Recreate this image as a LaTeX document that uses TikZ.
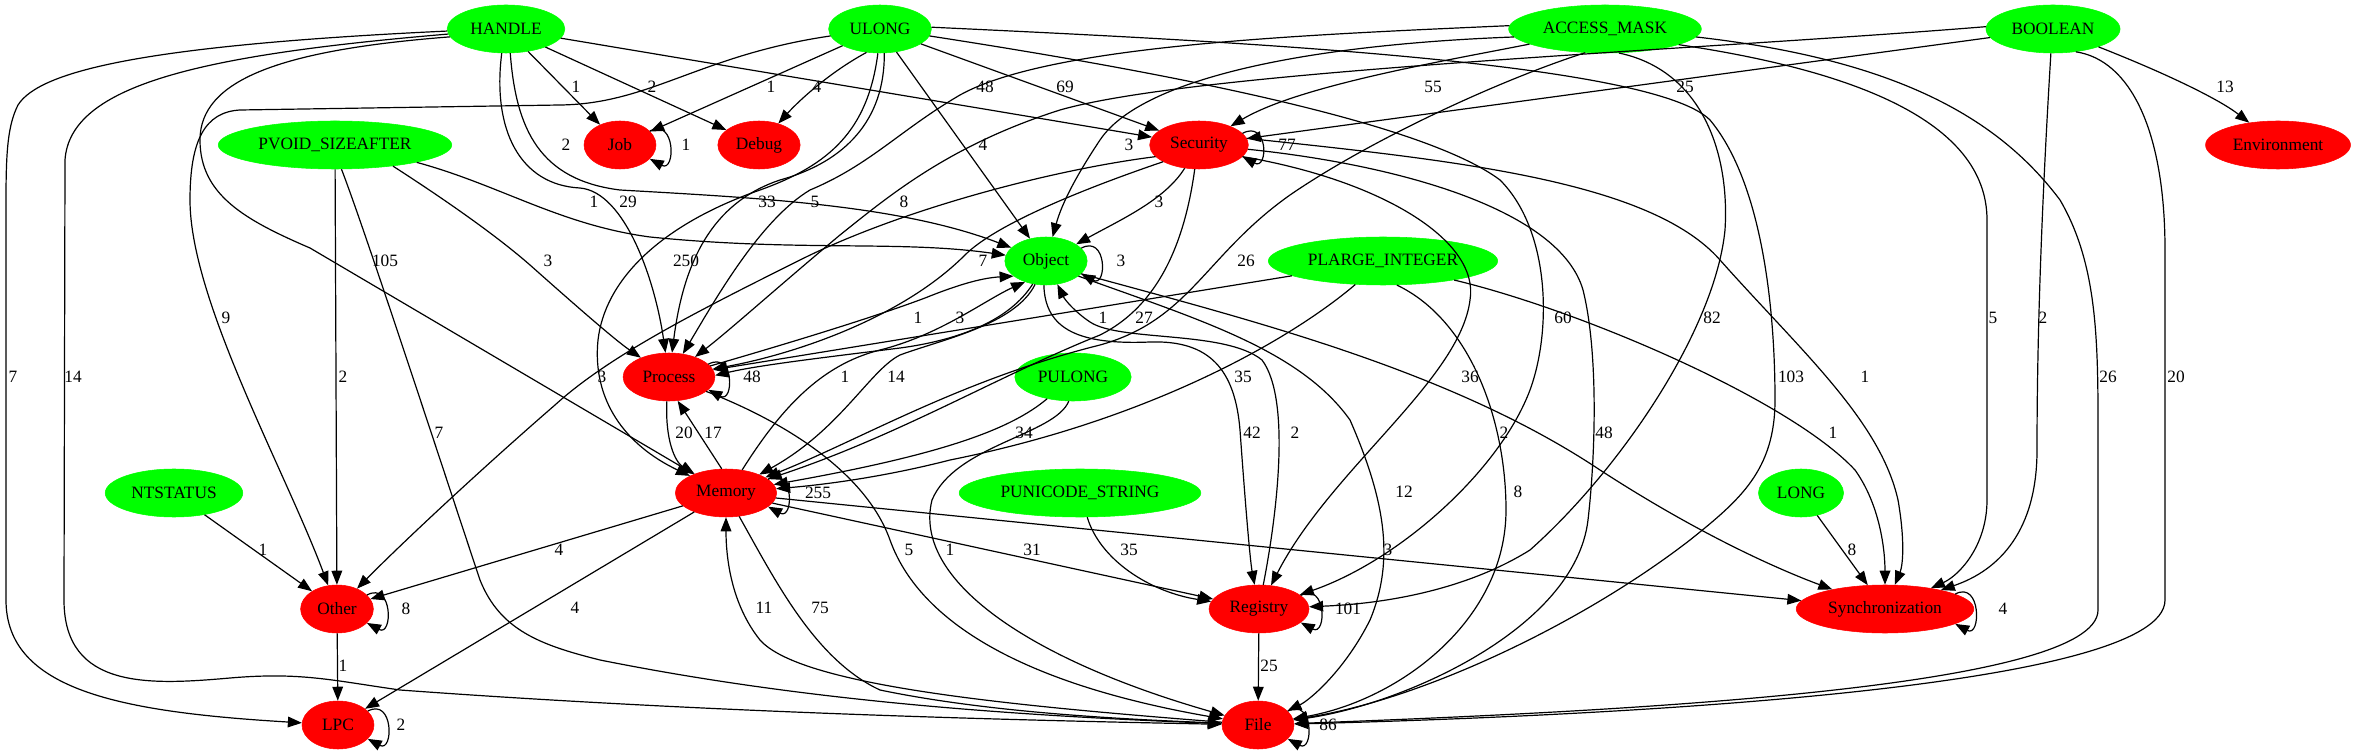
\documentclass[tikz,border=0pt]{standalone}
\usepackage{fontspec}
\setmainfont{Liberation Serif}
\usetikzlibrary{arrows.meta,shapes.geometric}
\definecolor{typeColor}{RGB}{0,255,0}
\definecolor{groupColor}{RGB}{255,0,0}
\newcommand{\diagfont}{\fontsize{13}{15}\selectfont}

\begin{document}
\begin{tikzpicture}[x=0.75pt, y=-0.75pt,
    typ/.style={ellipse, fill=typeColor, draw=typeColor, minimum width=54pt, minimum height=36pt, inner xsep=4.5pt, inner ysep=1pt, font=\diagfont},
    grp/.style={typ, fill=groupColor, draw=groupColor},
    arr/.style={-{Triangle[length=10.5pt, width=8pt]}, line width=0.9pt},
    lbl/.style={font=\diagfont, inner sep=0pt}
  ]
  \useasboundingbox (0,0) rectangle (2360,755);

  % argument types
  \node[typ] (handle) at (506,29) {HANDLE};
  \node[typ] (ulong) at (880,29) {ULONG};
  \node[typ] (accmask) at (1605,29) {ACCESS\_MASK};
  \node[typ] (boolean) at (2053,29) {BOOLEAN};
  \node[typ] (pvoid) at (335,145) {PVOID\_SIZEAFTER};
  \node[typ] (object) at (1046,261) {Object};
  \node[typ] (plarge) at (1383,261) {PLARGE\_INTEGER};
  \node[typ] (pulong) at (1073,377) {PULONG};
  \node[typ] (ntstatus) at (174,493) {NTSTATUS};
  \node[typ] (punicode) at (1080,493) {PUNICODE\_STRING};
  \node[typ] (long) at (1801,493) {LONG};
  % call groups
  \node[grp] (job) at (620,145) {Job};
  \node[grp] (debug) at (759,145) {Debug};
  \node[grp] (security) at (1199,145) {Security};
  \node[grp] (environ) at (2278,145) {Environment};
  \node[grp] (process) at (669,377) {Process};
  \node[grp] (memory) at (726,493) {Memory};
  \node[grp] (other) at (337,609) {Other};
  \node[grp] (registry) at (1259,609) {Registry};
  \node[grp] (sync) at (1885,609) {Synchronization};
  \node[grp] (lpc) at (338,725) {LPC};
  \node[grp] (file) at (1258,725) {File};

  % HANDLE
  \draw[arr] (handle) -- (job);
  \draw[arr] (handle) -- (debug);
  \draw[arr] (handle) -- (security);
  \draw[arr] (handle.-80) .. controls (516,130) and (540,180) .. (620,190) .. controls (760,198) and (900,205) .. (object);
  \draw[arr] (handle.-100) .. controls (492,130) and (520,185) .. (580,188) .. controls (625,192) and (655,280) .. (process);
  \draw[arr] (handle.188) .. controls (280,50) and (200,80) .. (200,140) .. controls (200,195) and (245,220) .. (310,248) -- (memory);
  \draw[arr] (handle.182) .. controls (150,45) and (40,70) .. (18,105) .. controls (8,125) and (6,150) .. (6,200) -- (6,600) .. controls (6,690) and (120,712) .. (lpc);
  \draw[arr] (handle.185) .. controls (200,55) and (70,85) .. (65,160) -- (64,600) .. controls (64,690) and (150,685) .. (230,678) .. controls (300,672) and (330,680) .. (400,690) .. controls (700,712) and (1000,720) .. (file);

  % ULONG
  \draw[arr] (ulong) -- (job);
  \draw[arr] (ulong.-120) .. controls (825,75) and (795,105) .. (debug);
  \draw[arr] (ulong) -- (security);
  \draw[arr] (ulong) -- (object);
  \draw[arr] (ulong.188) .. controls (700,55) and (650,104) .. (560,105) -- (240,110) .. controls (205,112) and (190,140) .. (190,200) .. controls (190,300) and (285,470) .. (other);
  \draw[arr] (ulong.-80) .. controls (885,120) and (845,162) .. (780,180) .. controls (720,200) and (685,250) .. (process);
  \draw[arr] (ulong.-95) .. controls (868,130) and (830,165) .. (760,190) .. controls (660,225) and (605,280) .. (598,340) .. controls (592,400) and (625,445) .. (memory);
  \draw[arr] (ulong.-8) .. controls (1150,70) and (1420,120) .. (1500,180) .. controls (1550,230) and (1552,330) .. (1530,390) .. controls (1500,470) and (1400,560) .. (registry);
  \draw[arr] (ulong.2) .. controls (1200,40) and (1650,60) .. (1710,120) .. controls (1760,180) and (1775,300) .. (1775,400) .. controls (1775,470) and (1740,500) .. (1690,540) .. controls (1580,625) and (1420,700) .. (file);

  % ACCESS_MASK
  \draw[arr] (accmask) .. controls (1450,60) and (1300,85) .. (security);
  \draw[arr] (accmask.185) .. controls (1300,45) and (1140,80) .. (1100,140) .. controls (1070,185) and (1060,210) .. (object);
  \draw[arr] (accmask.178) .. controls (1300,35) and (1050,45) .. (960,95) .. controls (900,130) and (870,165) .. (810,190) .. controls (760,220) and (715,300) .. (process);
  \draw[arr] (accmask.-130) .. controls (1500,80) and (1370,140) .. (1290,195) .. controls (1205,255) and (1190,320) .. (1100,345) .. controls (960,380) and (860,440) .. (memory);
  \draw[arr] (accmask.-60) .. controls (1700,70) and (1730,150) .. (1725,230) .. controls (1715,330) and (1620,470) .. (1530,550) .. controls (1450,600) and (1350,605) .. (registry);
  \draw[arr] (accmask.-12) .. controls (1850,70) and (1987,120) .. (1987,220) -- (1987,500) .. controls (1987,545) and (1960,575) .. (sync);
  \draw[arr] (accmask.-5) .. controls (1900,60) and (2000,120) .. (2060,200) .. controls (2095,260) and (2098,330) .. (2098,420) -- (2098,610) .. controls (2098,690) and (1600,712) .. (file);

  % BOOLEAN
  \draw[arr] (boolean) -- (security);
  \draw[arr] (boolean) .. controls (2170,75) and (2220,100) .. (environ);
  \draw[arr] (boolean.178) .. controls (1700,50) and (1200,70) .. (1060,110) .. controls (950,145) and (890,195) .. (840,235) .. controls (780,285) and (730,330) .. (process);
  \draw[arr] (boolean.-95) .. controls (2045,150) and (2037,300) .. (2037,450) .. controls (2037,530) and (2000,570) .. (sync);
  \draw[arr] (boolean.-45) .. controls (2130,60) and (2165,130) .. (2165,250) -- (2165,600) .. controls (2165,690) and (1600,716) .. (file);

  % PVOID_SIZEAFTER
  \draw[arr] (pvoid) -- (other);
  \draw[arr] (pvoid.-75) .. controls (365,230) and (440,460) .. (480,580) .. controls (500,630) and (540,645) .. (600,660) .. controls (800,700) and (1000,715) .. (file);
  \draw[arr] (pvoid.-20) .. controls (430,190) and (490,230) .. (530,265) .. controls (575,305) and (615,340) .. (process);
  \draw[arr] (pvoid.-12) .. controls (500,185) and (560,225) .. (650,237) .. controls (800,252) and (900,240) .. (object);

  % Security
  \draw[arr] (security) .. controls (1165,200) and (1120,220) .. (object);
  \draw[arr] (security.205) .. controls (1080,190) and (995,225) .. (965,255) .. controls (900,320) and (790,355) .. (process);
  \draw[arr] (security.195) .. controls (1050,170) and (900,210) .. (800,260) .. controls (700,310) and (610,355) .. (555,405) .. controls (480,470) and (400,545) .. (other);
  \draw[arr] (security.-100) .. controls (1185,240) and (1160,305) .. (1100,335) .. controls (1000,375) and (900,435) .. (memory);
  \draw[arr] (security.-15) .. controls (1380,180) and (1480,240) .. (1470,300) .. controls (1460,380) and (1330,470) .. (registry);
  \draw[arr] (security.-5) .. controls (1400,165) and (1560,210) .. (1583,290) .. controls (1598,350) and (1596,450) .. (1588,520) .. controls (1575,630) and (1400,705) .. (file);
  \draw[arr] (security.8) .. controls (1450,160) and (1650,180) .. (1720,260) .. controls (1800,350) and (1880,420) .. (1898,500) .. controls (1905,540) and (1903,565) .. (sync);

  % Object
  \draw[arr] (object.-120) .. controls (1010,320) and (960,340) .. (900,348) .. controls (820,358) and (760,365) .. (process.2);
  \draw[arr] (object.-115) .. controls (1015,325) and (940,340) .. (900,355) .. controls (870,370) and (840,430) .. (memory);
  \draw[arr] (object.-95) .. controls (1045,330) and (1080,345) .. (1150,342) .. controls (1210,340) and (1235,370) .. (1240,430) .. controls (1245,500) and (1250,560) .. (registry);
  \draw[arr] (object.-25) .. controls (1200,320) and (1300,350) .. (1350,420) .. controls (1385,500) and (1395,560) .. (1370,620) .. controls (1345,670) and (1310,700) .. (file);
  \draw[arr] (object.-20) .. controls (1250,320) and (1450,370) .. (1600,470) .. controls (1700,535) and (1780,570) .. (sync);

  % PLARGE_INTEGER
  \draw[arr] (plarge) -- (process);
  \draw[arr] (plarge) .. controls (1290,340) and (1150,420) .. (950,460) .. controls (880,478) and (820,485) .. (memory);
  \draw[arr] (plarge.-60) .. controls (1470,320) and (1506,420) .. (1506,510) .. controls (1506,620) and (1400,700) .. (file);
  \draw[arr] (plarge.-15) .. controls (1580,310) and (1790,400) .. (1855,470) .. controls (1880,505) and (1885,550) .. (sync);

  % PULONG, NTSTATUS, PUNICODE_STRING, LONG
  \draw[arr] (pulong) .. controls (1010,430) and (940,455) .. (memory);
  \draw[arr] (pulong.-100) .. controls (1055,435) and (955,445) .. (932,500) .. controls (912,580) and (1030,660) .. (file);
  \draw[arr] (ntstatus) -- (other);
  \draw[arr] (punicode) .. controls (1100,560) and (1150,592) .. (registry);
  \draw[arr] (long) -- (sync);

  % Process, Memory and the rest
  \draw[arr] (process.15) .. controls (800,340) and (880,315) .. (925,298) .. controls (955,286) and (980,278) .. (object.205);
  \draw[arr] (process.-95) .. controls (665,440) and (675,462) .. (memory);
  \draw[arr] (process) .. controls (780,420) and (865,470) .. (890,540) .. controls (915,610) and (1000,680) .. (file);
  \draw[arr] (memory.100) -- (process.-70);
  \draw[arr] (memory.55) .. controls (780,410) and (820,365) .. (880,350) .. controls (940,335) and (985,300) .. (object.225);
  \draw[arr] (memory) -- (other);
  \draw[arr] (memory) -- (lpc);
  \draw[arr] (memory) -- (registry);
  \draw[arr] (memory) -- (sync);
  \draw[arr] (memory) .. controls (775,580) and (815,660) .. (880,690) .. controls (1000,715) and (1150,720) .. (file);
  \draw[arr] (file) .. controls (1000,705) and (800,685) .. (760,640) .. controls (732,605) and (726,560) .. (memory);
  \draw[arr] (registry.80) .. controls (1276,520) and (1292,400) .. (1262,360) .. controls (1225,330) and (1120,342) .. (1090,322) .. controls (1075,312) and (1065,300) .. (object);
  \draw[arr] (other) -- (lpc);
  \draw[arr] (registry) -- (file);

  % self loops
  \draw[arr] (job.25) .. controls +(26,-14) and +(26,14) .. (job.-25);
  \draw[arr] (security.15) .. controls +(26,-14) and +(26,14) .. (security.-15);
  \draw[arr] (object.20) .. controls +(26,-14) and +(26,14) .. (object.-20);
  \draw[arr] (process.18) .. controls +(26,-14) and +(26,14) .. (process.-18);
  \draw[arr] (memory.18) .. controls +(26,-14) and +(26,14) .. (memory.-18);
  \draw[arr] (other.25) .. controls +(26,-14) and +(26,14) .. (other.-25);
  \draw[arr] (registry.18) .. controls +(26,-14) and +(26,14) .. (registry.-18);
  \draw[arr] (sync.12) .. controls +(26,-14) and +(26,14) .. (sync.-12);
  \draw[arr] (lpc.25) .. controls +(26,-14) and +(26,14) .. (lpc.-25);
  \draw[arr] (file.25) .. controls +(26,-14) and +(26,14) .. (file.-25);

  % edge labels
  \node[lbl] (n1) at (576,87) {1};   \node[lbl] (n2) at (652,87) {2};
  \node[lbl] (n3) at (771,87) {1};   \node[lbl] (n4) at (817,87) {4};
  \node[lbl] (n5) at (985,87) {48};  \node[lbl] (n6) at (1065,87) {69};
  \node[lbl] (n7) at (1433,87) {55}; \node[lbl] (n8) at (1685,87) {25};
  \node[lbl] (n9) at (2225,87) {13};
  \node[lbl] (n10) at (566,145) {2};  \node[lbl] (n11) at (686,145) {1};
  \node[lbl] (n12) at (983,145) {4};  \node[lbl] (n13) at (1129,145) {3};
  \node[lbl] (n14) at (1287,145) {77};
  \node[lbl] (n15) at (594,202) {1};  \node[lbl] (n16) at (628,202) {29};
  \node[lbl] (n17) at (767,202) {33}; \node[lbl] (n18) at (815,202) {5};
  \node[lbl] (n19) at (904,202) {8};  \node[lbl] (n20) at (1159,202) {3};
  \node[lbl] (n21) at (385,261) {105}; \node[lbl] (n22) at (548,261) {3};
  \node[lbl] (n23) at (686,261) {250}; \node[lbl] (n24) at (983,261) {7};
  \node[lbl] (n25) at (1121,261) {3};  \node[lbl] (n26) at (1246,261) {26};
  \node[lbl] (n27) at (226,318) {9};   \node[lbl] (n28) at (918,318) {1};
  \node[lbl] (n29) at (960,318) {3};   \node[lbl] (n30) at (1103,318) {1};
  \node[lbl] (n31) at (1144,318) {27}; \node[lbl] (n32) at (1563,318) {60};
  \node[lbl] (n33) at (1712,318) {82}; \node[lbl] (n34) at (1993,318) {5};
  \node[lbl] (n35) at (2043,318) {2};
  \node[lbl] (n36) at (13,377) {7};    \node[lbl] (n37) at (73,377) {14};
  \node[lbl] (n38) at (343,377) {2};   \node[lbl] (n39) at (602,377) {3};
  \node[lbl] (n40) at (752,377) {48};  \node[lbl] (n41) at (845,377) {1};
  \node[lbl] (n42) at (896,377) {14};  \node[lbl] (n43) at (1243,377) {35};
  \node[lbl] (n44) at (1470,377) {36}; \node[lbl] (n45) at (1791,377) {103};
  \node[lbl] (n46) at (1865,377) {1};  \node[lbl] (n47) at (2108,377) {26};
  \node[lbl] (n48) at (2176,377) {20};
  \node[lbl] (n49) at (439,433) {7};   \node[lbl] (n50) at (684,433) {20};
  \node[lbl] (n51) at (713,433) {17};  \node[lbl] (n52) at (1024,433) {34};
  \node[lbl] (n53) at (1252,433) {42}; \node[lbl] (n54) at (1295,433) {2};
  \node[lbl] (n55) at (1504,433) {2};  \node[lbl] (n56) at (1604,433) {48};
  \node[lbl] (n57) at (1833,433) {1};
  \node[lbl] (n58) at (818,493) {255}; \node[lbl] (n59) at (1404,492) {12};
  \node[lbl] (n60) at (1518,492) {8};
  \node[lbl] (n61) at (263,550) {1};   \node[lbl] (n62) at (559,550) {4};
  \node[lbl] (n63) at (909,550) {5};   \node[lbl] (n64) at (950,550) {1};
  \node[lbl] (n65) at (1032,550) {31}; \node[lbl] (n66) at (1129,550) {35};
  \node[lbl] (n67) at (1388,550) {3};  \node[lbl] (n68) at (1852,550) {8};
  \node[lbl] (n69) at (406,609) {8};   \node[lbl] (n70) at (575,608) {4};
  \node[lbl] (n71) at (764,608) {11};  \node[lbl] (n72) at (820,608) {75};
  \node[lbl] (n73) at (1348,609) {101}; \node[lbl] (n74) at (2003,609) {4};
  \node[lbl] (n75) at (343,666) {1};   \node[lbl] (n76) at (1269,666) {25};
  \node[lbl] (n77) at (401,725) {2};   \node[lbl] (n78) at (1328,725) {86};
\end{tikzpicture}
\end{document}
